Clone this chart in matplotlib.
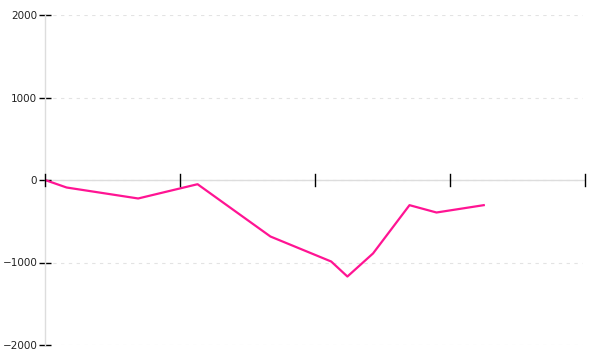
import matplotlib.pyplot as plt

x = [0, 1.6, 6.9, 11.3, 16.7, 21.2, 22.4, 24.3, 27.0, 29.0, 32.5]
y = [0, -91, -224, -51, -685, -988, -1170, -890, -305, -394, -305]

x_ticks = [0, 10, 20, 30, 40]
y_ticks = [-2000, -1000, 0, 1000, 2000]

fig = plt.figure(figsize=(6, 3.6), dpi=100)
ax = fig.add_axes([45 / 600, 15 / 360, 540 / 600, 330 / 360])

for v in y_ticks:
    ax.axhline(v, xmax=0.995, color='#e3e3e3', linewidth=0.8, linestyle=(0, (3, 4)), zorder=0)

ax.plot(x, y, color='#ff1493', linewidth=1.6, zorder=3)

ax.set_xlim(0, 40)
ax.set_ylim(-2000, 2000)

for s in ['top', 'right', 'bottom']:
    ax.spines[s].set_visible(False)
ax.spines['left'].set_color('#dddddd')
ax.spines['left'].set_linewidth(1)
ax.axhline(0, color='#dddddd', linewidth=1, zorder=1)

ax.set_xticks(x_ticks)
ax.set_xticklabels([])
ax.set_yticks(y_ticks)
ax.set_yticklabels([str(v).replace('-', '\u2212') for v in y_ticks])
ax.tick_params(axis='y', direction='inout', length=9, width=1, color='black',
               labelsize=7.5, labelcolor='#222222', pad=1)
ax.tick_params(axis='x', length=0)
# x ticks sit on the zero line, drawn over the series
for xt in x_ticks:
    ax.plot([xt, xt], [-70, 70], color='black', linewidth=1, zorder=4, clip_on=False)

plt.savefig('out.png', dpi=100)
